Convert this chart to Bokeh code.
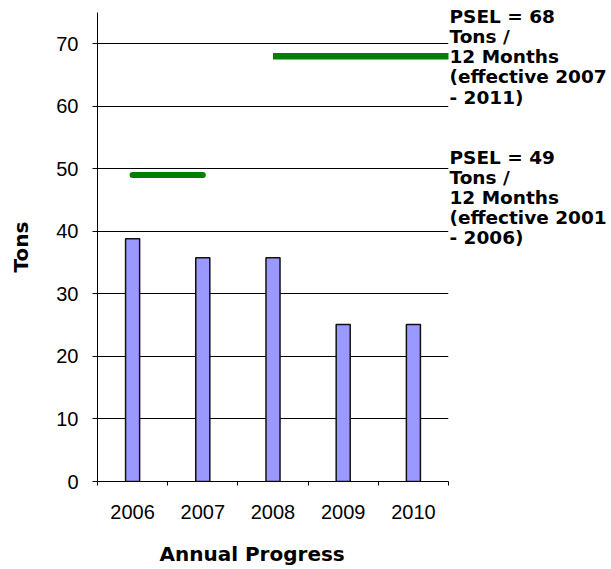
from bokeh.plotting import figure
from bokeh.models import Range1d, FixedTicker, LinearAxis
from bokeh.embed import file_html
from bokeh.resources import INLINE

# ---- data ----
years = ["2006", "2007", "2008", "2009", "2010"]
tons = [38.8, 35.8, 35.8, 25.1, 25.1]
psel_early_years = [2006, 2007]
psel_early = [49, 49]
psel_late_years = [2008, 2009, 2010, 2011]
psel_late = [68, 68, 68, 68]
y_ticks = [0, 10, 20, 30, 40, 50, 60, 70]
psel_late_text = ["PSEL = 68", " Tons /", "12 Months", "(effective 2007", "- 2011)"]
psel_early_text = ["PSEL = 49", " Tons /", "12 Months", "(effective 2001", "- 2006)"]
x_title = "Annual Progress"
y_title = "Tons"

# vertical anchors (in axis units) of the annotation text lines
psel_late_text_y = [74.41, 71.17, 67.97, 64.77, 61.46]
psel_early_text_y = [51.86, 48.66, 45.46, 42.27, 38.97]

first_year = int(years[0])
xc = [i + 0.5 for i in range(len(years))]
early_x = [y - first_year + 0.5 for y in psel_early_years]
late_x = [y - first_year + 0.5 for y in psel_late_years]

p = figure(width=611, height=569, output_backend="svg", toolbar_location=None,
           x_range=Range1d(0, len(years)), y_range=Range1d(0, 75),
           min_border_left=97, min_border_right=163, min_border_top=12, min_border_bottom=88,
           title=None)
p.outline_line_color = None
p.background_fill_color = "white"
p.border_fill_color = "white"

# bars
p.vbar(x=xc, top=tons, width=0.2, fill_color="#9999FF", line_color="#111111", line_width=1.5)

# PSEL lines
p.line(early_x, psel_early, line_color="#008000", line_width=6, line_cap="round")
p.line(late_x, psel_late, line_color="#008000", line_width=6.5, line_cap="butt")

# x axis
p.xaxis.ticker = FixedTicker(ticks=xc, minor_ticks=list(range(len(years) + 1)))
p.xaxis.major_label_overrides = {xc[i]: years[i] for i in range(len(years))}
p.xaxis.major_tick_out = 0
p.xaxis.major_tick_in = 0
p.xaxis.minor_tick_out = 4
p.xaxis.minor_tick_in = 0
p.xaxis.minor_tick_line_color = "black"
p.xaxis.axis_line_color = "black"
p.xaxis.major_label_standoff = 19
p.xaxis.major_label_text_font = "Liberation Sans"
p.xaxis.major_label_text_font_size = "20px"
p.xaxis.major_label_text_color = "black"
# trailing no-break spaces shift the centred title left, as in the original
p.xaxis.axis_label = x_title + "\u00a0" * 6
p.xaxis.axis_label_text_font = "DejaVu Sans"
p.xaxis.axis_label_text_font_style = "bold"
p.xaxis.axis_label_text_font_size = "20px"
p.xaxis.axis_label_text_color = "black"
p.xaxis.axis_label_standoff = 20

# y axis
p.yaxis.ticker = FixedTicker(ticks=y_ticks, minor_ticks=[])
p.yaxis.major_tick_out = 5
p.yaxis.major_tick_in = 0
p.yaxis.major_tick_line_color = "black"
p.yaxis.axis_line_color = "black"
p.yaxis.major_label_standoff = 14
p.yaxis.major_label_text_font = "Liberation Sans"
p.yaxis.major_label_text_font_size = "20px"
p.yaxis.major_label_text_color = "black"
p.yaxis.axis_label = y_title
p.yaxis.axis_label_text_font = "DejaVu Sans"
p.yaxis.axis_label_text_font_style = "bold"
p.yaxis.axis_label_text_font_size = "20px"
p.yaxis.axis_label_text_color = "black"
p.yaxis.axis_label_standoff = 20

p.xgrid.grid_line_color = None
p.ygrid.grid_line_color = "black"
p.ygrid.grid_line_width = 1
p.ygrid.ticker = FixedTicker(ticks=y_ticks)

# right-hand annotation texts as an invisible axis
ann_ticks = psel_late_text_y + psel_early_text_y
ann_text = psel_late_text + psel_early_text
right = LinearAxis(ticker=FixedTicker(ticks=ann_ticks, minor_ticks=[]),
                   major_label_overrides={ann_ticks[i]: ann_text[i] for i in range(len(ann_ticks))},
                   axis_line_color=None, major_tick_line_color=None, minor_tick_line_color=None,
                   major_tick_out=0, major_tick_in=0, major_label_standoff=1,
                   major_label_text_font="DejaVu Sans", major_label_text_font_style="bold",
                   major_label_text_font_size="18.5px", major_label_text_color="black")
p.add_layout(right, "right")

open("out.html", "w").write(file_html(p, INLINE))
